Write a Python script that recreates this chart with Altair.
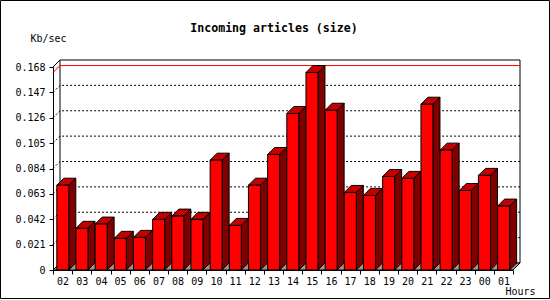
import altair as alt
import pandas as pd

# ---------------- data ----------------
hours = ["02", "03", "04", "05", "06", "07", "08", "09", "10", "11", "12", "13",
         "14", "15", "16", "17", "18", "19", "20", "21", "22", "23", "00", "01"]
kbps = [0.0702, 0.0345, 0.0380, 0.0262, 0.0270, 0.0419, 0.0446, 0.0419,
        0.0909, 0.0369, 0.0702, 0.0956, 0.1295, 0.1634, 0.1322, 0.0642,
        0.0617, 0.0774, 0.0758, 0.1372, 0.0992, 0.0658, 0.0783, 0.0529]
y_ticks = [0, 0.021, 0.042, 0.063, 0.084, 0.105, 0.126, 0.147, 0.168]

title_text = "Incoming articles (size)"
y_title = "Kb/sec"
x_title = "Hours"

# ---------------- geometry / style ----------------
W, H = 460, 203
N = len(hours)
YMAX = y_ticks[-1]
SLOT = W / N
DEPTH = 7                      # 3-D depth in pixels
DX = DEPTH / SLOT              # depth in x units
DV = DEPTH * YMAX / H          # depth in y units
FL = 3.8 / SLOT                # front face left inset
FW = 12 / SLOT                 # front face width
FONT = "DejaVu Sans Mono"

FRONT = "#ff0000"
SIDE = "#800000"
TOP = "#c40000"
FLOOR = "#999999"

xs = alt.Scale(domain=[0, N], nice=False, zero=False)
ys = alt.Scale(domain=[0, YMAX], nice=False, zero=True)

# ---------------- derived tables ----------------
bars = pd.DataFrame({"i": list(range(N)), "hour": hours, "v": kbps})
bars["x0"] = bars["i"] + FL
bars["x1"] = bars["x0"] + FW

side_rows, top_rows = [], []
for i, v in enumerate(kbps):
    x0 = i + FL
    x1 = x0 + FW
    side_rows += [dict(b=i, x=x1, t=v, u=0.0), dict(b=i, x=x1 + DX, t=v + DV, u=DV)]
    top_rows += [dict(b=i, x=x0, t=v, u=v), dict(b=i, x=x0 + DX, t=v + DV, u=v),
                 dict(b=i, x=x1, t=v + DV, u=v), dict(b=i, x=x1 + DX, t=v + DV, u=v + DV)]
side = pd.DataFrame(side_rows)
top = pd.DataFrame(top_rows)

grid_rows = []
for v in y_ticks[1:-1]:
    grid_rows += [dict(g=v, x=0.0, y=v), dict(g=v, x=DX, y=v + DV), dict(g=v, x=N + DX, y=v + DV)]
grid = pd.DataFrame(grid_rows)

vmax = max(kbps)
maxline = pd.DataFrame([dict(x=0.0, y=vmax), dict(x=DX, y=vmax + DV), dict(x=N + DX, y=vmax + DV)])
slant = pd.DataFrame([dict(x=0.0, y=YMAX), dict(x=DX, y=YMAX + DV)])
wall = pd.DataFrame([dict(x=DX, x2=N + DX, y=DV, y2=YMAX + DV)])
floor = pd.DataFrame([dict(x=0.0, t=0.0, u=0.0), dict(x=DX, t=DV, u=0.0),
                      dict(x=float(N), t=DV, u=0.0), dict(x=N + DX, t=DV, u=DV)])

label_list = hours + [""]
label_expr = "[" + ",".join("'%s'" % h for h in label_list) + "][datum.value]"

x_axis = alt.Axis(values=list(range(N + 1)), labelExpr=label_expr, labelOffset=SLOT / 2,
                  labelFlush=False, labelOverlap=False, labelBound=False,
                  tickSize=4, labelPadding=2, grid=False,
                  domainColor="black", tickColor="black", labelColor="black",
                  labelFont=FONT, labelFontSize=10,
                  title=x_title, titleFont=FONT, titleFontSize=10, titleFontWeight="normal",
                  titleColor="black", titleAlign="left", titleBaseline="middle",
                  titleX=452, titleY=21.7, titleAngle=0)
y_axis = alt.Axis(values=y_ticks,
                  labelExpr="datum.value == 0 ? '0' : format(datum.value, '.3f')",
                  tickSize=4, labelPadding=4, grid=False,
                  domainColor="black", tickColor="black", labelColor="black",
                  labelFont=FONT, labelFontSize=10,
                  title=y_title, titleFont=FONT, titleFontSize=10, titleFontWeight="normal",
                  titleColor="black", titleAlign="left", titleBaseline="middle",
                  titleX=-23, titleY=-28.4, titleAngle=0)


def X(field):
    return alt.X(field, type="quantitative", scale=xs, axis=x_axis)


def Y(field):
    return alt.Y(field, type="quantitative", scale=ys, axis=y_axis)


border = alt.Chart(pd.DataFrame({"a": [0]})).mark_rect(
    fill="transparent", stroke="black", strokeWidth=1).encode(
    x=alt.value(-52.5), x2=alt.value(496.5), y=alt.value(-66.5), y2=alt.value(231.5))

wall_l = alt.Chart(wall).mark_rect(fill="white", stroke="black", strokeWidth=1).encode(
    x=X("x"), x2="x2:Q", y=Y("y"), y2="y2:Q")

grid_l = alt.Chart(grid).mark_line(color="black", strokeWidth=1, strokeDash=[2, 2]).encode(
    x=X("x"), y=Y("y"), detail="g:N")

max_l = alt.Chart(maxline).mark_line(color="#ff0000", strokeWidth=1).encode(
    x=X("x"), y=Y("y"))

slant_l = alt.Chart(slant).mark_line(color="black", strokeWidth=1).encode(
    x=X("x"), y=Y("y"))

floor_l = alt.Chart(floor).mark_area(fill=FLOOR, stroke="black", strokeWidth=1,
                                     orient="vertical", interpolate="linear").encode(
    x=X("x"), y=Y("t"), y2="u:Q")

side_l = alt.Chart(side).mark_area(fill=SIDE, stroke="black", strokeWidth=1,
                                   orient="vertical", interpolate="linear").encode(
    x=X("x"), y=Y("t"), y2="u:Q", detail="b:N")

top_l = alt.Chart(top).mark_area(fill=TOP, stroke="black", strokeWidth=1,
                                 orient="vertical", interpolate="linear").encode(
    x=X("x"), y=Y("t"), y2="u:Q", detail="b:N")

front_l = alt.Chart(bars).mark_rect(fill=FRONT, stroke="black", strokeWidth=1).encode(
    x=X("x0"), x2="x1:Q", y=Y("v"), y2=alt.datum(0))

chart = alt.layer(border, wall_l, grid_l, max_l, slant_l, floor_l, side_l, top_l, front_l).properties(
    width=W, height=H,
    autosize=alt.AutoSizeParams(type="none"),
    padding={"left": 53, "top": 67, "right": 37, "bottom": 30},
    title=alt.TitleParams(title_text, font=FONT, fontSize=11.6, fontWeight="bold",
                          color="black", anchor="middle", baseline="middle",
                          offset=-41, dx=-9),
).configure_view(stroke="transparent").configure(background="white")

chart.save("out.html", embed_options={"renderer": "svg", "actions": False})
